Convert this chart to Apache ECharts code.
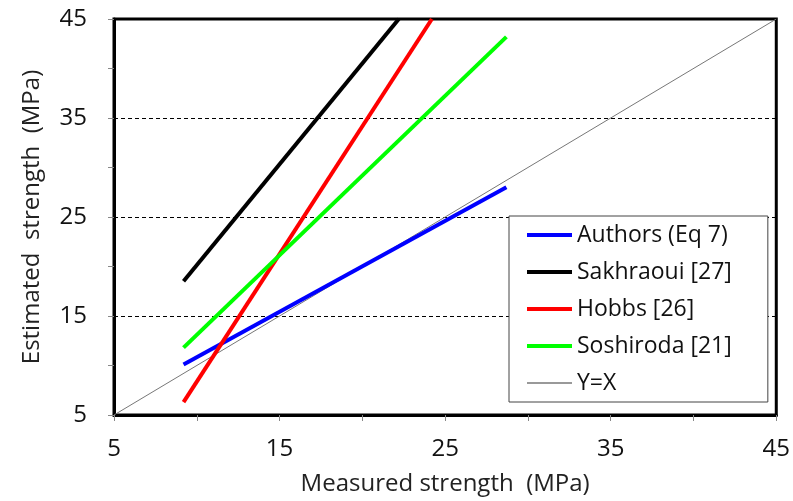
<!DOCTYPE html>
<html>
<head>
<meta charset="utf-8">
<script src="https://cdn.jsdelivr.net/npm/echarts@6/dist/echarts.min.js"></script>
<style>
  html, body { margin: 0; padding: 0; background: #fff; }
  #chart { width: 793px; height: 501px; }
</style>
</head>
<body>
<div id="chart"></div>
<script>
// endpoints: [measured, estimated]
var authors = [[9.2, 10.1], [28.7, 28.0]];
var sakhraoui = [[9.2, 18.5], [22.2, 45]];
var hobbs = [[9.2, 6.3], [24.2, 45]];
var soshiroda = [[9.2, 11.8], [28.7, 43.2]];
var yEqualsX = [[5, 5], [45, 45]];

var names = ['Authors (Eq 7)', 'Sakhraoui [27]', 'Hobbs [26]', 'Soshiroda [21]', 'Y=X'];
var colors = ['#0000ff', '#000000', '#ff0000', '#00ff00', '#777777'];
var seriesData = [authors, sakhraoui, hobbs, soshiroda, yEqualsX];

var font = 'Open Sans, Liberation Sans, sans-serif';
var chart = echarts.init(document.getElementById('chart'));

var series = seriesData.map(function (d, i) {
  return {
    name: names[i],
    type: 'line',
    data: d,
    symbol: 'none',
    clip: true,
    z: i == 4 ? 1 : 3,
    lineStyle: { color: colors[i], width: i == 4 ? 1 : 4 },
    // no markers, so this only hides the dot in the legend icon
    itemStyle: { color: colors[i], opacity: 0 }
  };
});

var legendItems = names.map(function (n, i) {
  return {
    name: n,
    itemStyle: { opacity: 0 },
    lineStyle: { color: colors[i], width: i == 4 ? 1.5 : 4 }
  };
});

var option = {
  animation: false,
  backgroundColor: '#fff',
  grid: {
    left: 114, top: 19, right: 16, bottom: 84,
    show: true, borderColor: '#000', borderWidth: 3
  },
  legend: {
    orient: 'vertical',
    left: 509,
    top: 216,
    data: legendItems,
    backgroundColor: '#fff',
    borderColor: '#444',
    borderWidth: 1,
    borderRadius: 0,
    padding: [7, 36, 7, 16],
    itemWidth: 45,
    itemHeight: 14,
    itemGap: 13,
    textStyle: { fontFamily: font, fontSize: 23, lineHeight: 24, color: '#111' }
  },
  xAxis: {
    type: 'value',
    min: 5, max: 45, interval: 10,
    name: 'Measured strength  (MPa)',
    nameLocation: 'middle',
    nameGap: 57,
    nameTextStyle: { fontFamily: font, fontSize: 24, color: '#222' },
    axisLine: { lineStyle: { color: '#000', width: 3 } },
    axisTick: { show: true, length: 6, lineStyle: { color: '#888' } },
    minorTick: { show: true, splitNumber: 2, length: 6, lineStyle: { color: '#888' } },
    axisLabel: { fontFamily: font, fontSize: 24, color: '#111', margin: 22 },
    splitLine: { show: false }
  },
  yAxis: {
    type: 'value',
    min: 5, max: 45, interval: 10,
    name: 'Estimated  strength  (MPa)',
    nameLocation: 'middle',
    nameGap: 70,
    nameTextStyle: { fontFamily: font, fontSize: 24, color: '#222' },
    axisLine: { lineStyle: { color: '#000', width: 3 } },
    axisTick: { show: true, length: 6, lineStyle: { color: '#888' } },
    minorTick: { show: true, splitNumber: 2, length: 6, lineStyle: { color: '#888' } },
    axisLabel: { fontFamily: font, fontSize: 24, color: '#111', margin: 27 },
    splitLine: { show: true, lineStyle: { color: '#000', type: [4, 3], width: 1 } }
  },
  series: series
};

chart.setOption(option);
</script>
</body>
</html>
